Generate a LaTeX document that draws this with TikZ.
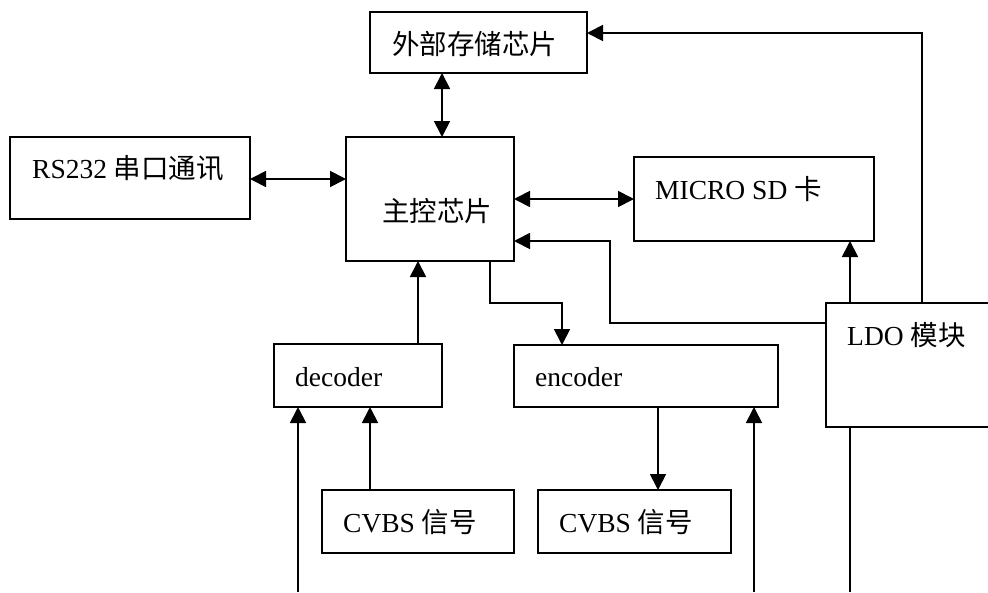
\documentclass[tikz,border=0pt]{standalone}
\usepackage{fontspec}
\setmainfont{Liberation Serif}
\newfontfamily\cjk{Noto Sans CJK SC}
\usetikzlibrary{arrows.meta}

\begin{document}
\begin{tikzpicture}[x=1pt,y=-1pt,
  box/.style={draw, rectangle, line width=1.8pt, inner sep=0pt, outer sep=0pt},
  lbl/.style={anchor=base west, inner sep=0pt, font=\fontsize{27.5}{32}\selectfont},
  link/.style={line width=1.8pt},
  onetip/.style={link, -{Triangle[length=16pt,width=16pt]}},
  twotip/.style={link, {Triangle[length=16pt,width=16pt]}-{Triangle[length=16pt,width=16pt]}}]

\useasboundingbox (0,0) rectangle (988,592);
\clip (0,0) rectangle (988,592);

% blocks
\node[box, minimum width=217pt, minimum height=61pt]  (ext)  at (478.5,42.5) {};
\node[box, minimum width=240pt, minimum height=82pt]  (rs)   at (130,178)    {};
\node[box, minimum width=168pt, minimum height=124pt] (main) at (430,199)    {};
\node[box, minimum width=240pt, minimum height=84pt]  (sd)   at (754,199)    {};
\node[box, minimum width=168pt, minimum height=63pt]  (dec)  at (358,375.5)  {};
\node[box, minimum width=264pt, minimum height=62pt]  (enc)  at (646,376)    {};
\node[box, minimum width=180pt, minimum height=124pt] (ldo)  at (916,365)    {};
\node[box, minimum width=192pt, minimum height=63pt]  (cvl)  at (418,521.5)  {};
\node[box, minimum width=193pt, minimum height=63pt]  (cvr)  at (634.5,521.5) {};

% block texts
\node[lbl] (t-ext)  at (392,54)  {\cjk 外部存储芯片};
\node[lbl] (t-rs)   at (32,178)  {RS232 {\cjk 串口通讯}};
\node[lbl] (t-main) at (382,221) {\cjk 主控芯片};
\node[lbl] (t-sd)   at (655,199) {MICRO SD {\cjk 卡}};
\node[lbl] (t-dec)  at (295,386) {decoder};
\node[lbl] (t-enc)  at (535,386) {encoder};
\node[lbl] (t-ldo)  at (847,345) {LDO {\cjk 模块}};
\node[lbl] (t-cvl)  at (343,532) {CVBS {\cjk 信号}};
\node[lbl] (t-cvr)  at (559,532) {CVBS {\cjk 信号}};

% routing points
\coordinate (xa) at (442,0);
\coordinate (ya) at (0,179);
\coordinate (k)  at (922,33);
\coordinate (xs) at (850,0);
\coordinate (p1) at (610,323);
\coordinate (p2) at (610,241);
\coordinate (q1) at (490,303);
\coordinate (q2) at (562,303);
\coordinate (xd) at (418,0);
\coordinate (xc) at (370,0);
\coordinate (xe) at (658,0);
\coordinate (b1) at (298,592);
\coordinate (b2) at (754,592);
\coordinate (b3) at (850,592);

% connectors
\draw[twotip] (main.north -| xa) -- (ext.south -| xa);
\draw[twotip] (rs.east |- ya) -- (main.west |- ya);
\draw[twotip] (main.east) -- (sd.west);
\draw[onetip] (ldo.north -| k) -- (k) -- (ext.east |- k);
\draw[onetip] (ldo.north -| xs) -- (sd.south -| xs);
\draw[onetip] (ldo.west |- p1) -- (p1) -- (p2) -- (main.east |- p2);
\draw[onetip] (main.south -| q1) -- (q1) -- (q2) -- (enc.north -| q2);
\draw[onetip] (dec.north -| xd) -- (main.south -| xd);
\draw[onetip] (cvl.north -| xc) -- (dec.south -| xc);
\draw[onetip] (b1) -- (dec.south -| b1);
\draw[onetip] (b2) -- (enc.south -| b2);
\draw[link]   (ldo.south -| b3) -- (b3);
\draw[onetip] (enc.south -| xe) -- (cvr.north -| xe);
\end{tikzpicture}
\end{document}
